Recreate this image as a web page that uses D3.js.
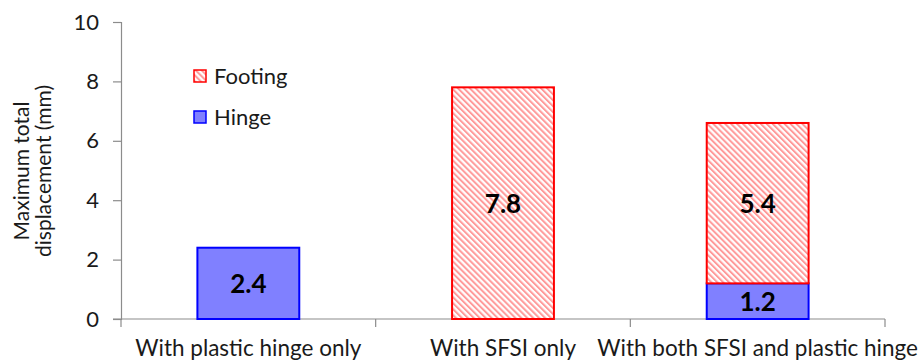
<!DOCTYPE html>
<html>
<head>
<meta charset="utf-8">
<script src="https://cdn.jsdelivr.net/npm/d3@7"></script>
<style>
  html, body { margin: 0; padding: 0; background: #fff; }
  svg { display: block; font-family: Lato, "Open Sans", sans-serif; }
</style>
</head>
<body>
<svg id="chart" width="923" height="363"></svg>
<script>
// Displacement components per analysis case (mm)
const categories = ["With plastic hinge only", "With SFSI only", "With both SFSI and plastic hinge"];
const hingeValues = [2.4, 0, 1.2];
const footingValues = [0, 7.8, 5.4];
const seriesNames = ["Footing", "Hinge"];
const yTicks = [0, 2, 4, 6, 8, 10];

const svg = d3.select("#chart");
const margin = { left: 121, right: 38, top: 22, bottom: 44 };
const W = 923, H = 363;
const textColor = "#1a1a1a";

const x = d3.scaleBand().domain(categories)
  .range([margin.left, W - margin.right]).paddingInner(0.6).paddingOuter(0.3);
const y = d3.scaleLinear().domain([0, 10]).range([H - margin.bottom, margin.top]);

// Diagonal hatch (top-left to bottom-right) for the footing component
const defs = svg.append("defs");
const pat = defs.append("pattern").attr("id", "hatch")
  .attr("patternUnits", "userSpaceOnUse").attr("width", 4.2).attr("height", 4.2)
  .attr("patternTransform", "rotate(-45)");
pat.append("rect").attr("width", 4.2).attr("height", 4.2).attr("fill", "#fff");
pat.append("rect").attr("x", 0).attr("y", 0).attr("width", 2).attr("height", 4.2).attr("fill", "#ff9a9a");

const axisColor = "#8c8c8c";

// Y axis
const yAxis = svg.append("g").attr("transform", `translate(${margin.left},0)`)
  .call(d3.axisLeft(y).tickValues(yTicks).tickSize(8).tickPadding(14).tickFormat(d3.format("d")));
yAxis.select(".domain").attr("stroke", axisColor).attr("stroke-width", 1.2);
yAxis.selectAll(".tick line").attr("stroke", axisColor).attr("stroke-width", 1.2);
yAxis.selectAll(".tick text").attr("font-size", 22).attr("fill", textColor)
  .attr("font-family", "Lato, sans-serif");

// X axis with boundary ticks between categories
const xBase = y(0);
const xg = svg.append("g");
xg.append("line").attr("x1", margin.left - 8).attr("x2", W - margin.right)
  .attr("y1", xBase).attr("y2", xBase).attr("stroke", axisColor).attr("stroke-width", 1.2);
const bounds = d3.range(categories.length + 1).map(i => margin.left + i * (W - margin.left - margin.right) / categories.length);
xg.selectAll("line.tk").data(bounds).join("line").attr("class", "tk")
  .attr("x1", d => d).attr("x2", d => d).attr("y1", xBase).attr("y2", xBase + 8)
  .attr("stroke", axisColor).attr("stroke-width", 1.2);
xg.selectAll("text").data(categories).join("text")
  .attr("x", d => x(d) + x.bandwidth() / 2).attr("y", xBase + 37)
  .attr("text-anchor", "middle").attr("font-size", 22.5).attr("fill", textColor)
  .text(d => d);

// Stacked bars: hinge at the base, footing on top
const stacks = categories.map((c, i) => ({ c, hinge: hingeValues[i], footing: footingValues[i] }));
const bars = svg.append("g");
stacks.forEach(s => {
  const bx = x(s.c), bw = x.bandwidth();
  if (s.hinge > 0) {
    bars.append("rect").attr("x", bx).attr("width", bw)
      .attr("y", y(s.hinge)).attr("height", y(0) - y(s.hinge))
      .attr("fill", "#8080ff").attr("stroke", "#0000ff").attr("stroke-width", 2);
  }
  if (s.footing > 0) {
    bars.append("rect").attr("x", bx).attr("width", bw)
      .attr("y", y(s.hinge + s.footing)).attr("height", y(s.hinge) - y(s.hinge + s.footing))
      .attr("fill", "url(#hatch)").attr("stroke", "#ff0000").attr("stroke-width", 2);
  }
});

// Value labels centred in each segment
const labels = svg.append("g").attr("font-size", 26).attr("font-weight", "bold")
  .attr("fill", "#000").attr("text-anchor", "middle");
stacks.forEach(s => {
  const cx = x(s.c) + x.bandwidth() / 2;
  if (s.hinge > 0) {
    labels.append("text").attr("x", cx).attr("y", y(s.hinge / 2)).attr("dy", "0.36em")
      .text(s.hinge.toFixed(1));
  }
  if (s.footing > 0) {
    labels.append("text").attr("x", cx).attr("y", y(s.hinge + s.footing / 2)).attr("dy", "0.36em")
      .text(s.footing.toFixed(1));
  }
});

// Y axis title (two lines, rotated)
const yt = svg.append("text").attr("transform", "translate(0,171) rotate(-90)")
  .attr("text-anchor", "middle").attr("font-size", 21).attr("fill", textColor);
yt.append("tspan").attr("x", 0).attr("y", 29).text("Maximum total");
yt.append("tspan").attr("x", 0).attr("y", 51).text("displacement (mm)");

// Legend
const legend = svg.append("g").attr("transform", "translate(193,69)");
const legendItems = [
  { name: seriesNames[0], fill: "url(#hatch)", stroke: "#ff0000" },
  { name: seriesNames[1], fill: "#8080ff", stroke: "#0000ff" }
];
legendItems.forEach((d, i) => {
  const g = legend.append("g").attr("transform", `translate(0,${i * 41})`);
  g.append("rect").attr("x", 1).attr("y", 1).attr("width", 12).attr("height", 12)
    .attr("fill", d.fill).attr("stroke", d.stroke).attr("stroke-width", 1.5);
  g.append("text").attr("x", 21).attr("y", 14.5).attr("font-size", 22).attr("fill", textColor)
    .text(d.name);
});
</script>
</body>
</html>
